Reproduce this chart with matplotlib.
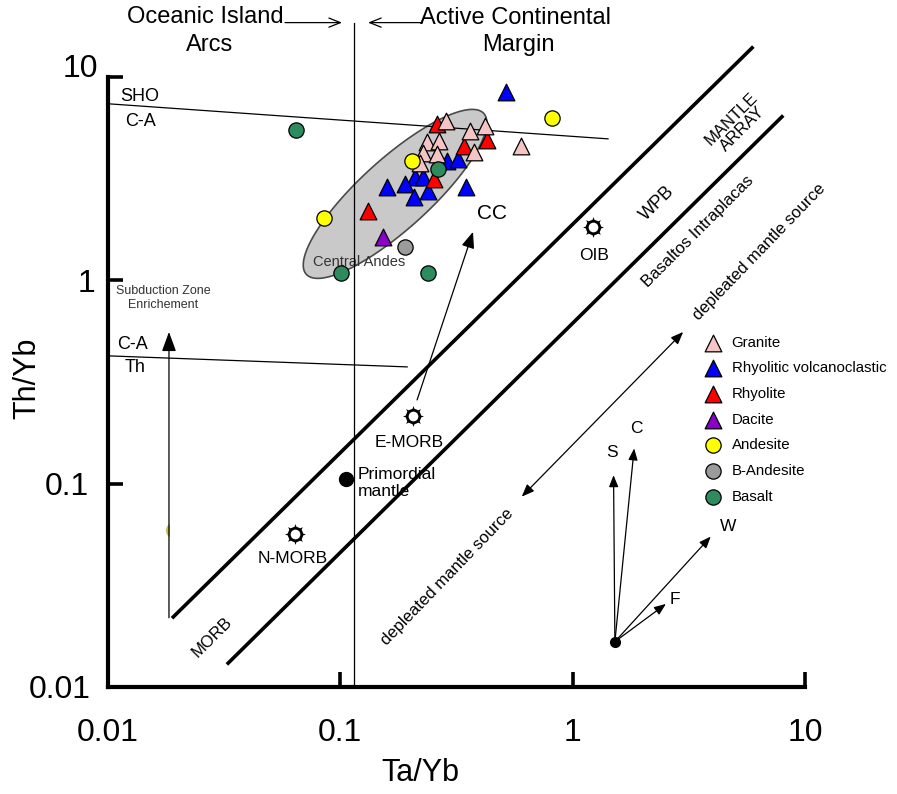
import numpy as np
import matplotlib
matplotlib.use("Agg")
import matplotlib.pyplot as plt
from matplotlib.patches import Polygon, Rectangle
from matplotlib.ticker import NullLocator

plt.rcParams['font.family'] = ['Liberation Sans', 'DejaVu Sans']

# Ta/Yb and Th/Yb per rock type
granite_ta = [0.285, 0.362, 0.420, 0.598, 0.237, 0.267, 0.376, 0.228, 0.260, 0.220]
granite_th = [6.10, 5.45, 5.75, 4.55, 4.76, 4.85, 4.27, 4.25, 4.19, 3.77]
rvolc_ta = [0.515, 0.287, 0.322, 0.210, 0.228, 0.159, 0.190, 0.208, 0.239, 0.348]
rvolc_th = [8.41, 3.84, 3.94, 3.21, 3.21, 2.89, 2.98, 2.58, 2.76, 2.87]
rhyolite_ta = [0.260, 0.429, 0.341, 0.254, 0.131]
rhyolite_th = [5.88, 4.90, 4.55, 3.15, 2.18]
dacite_ta = [0.153]
dacite_th = [1.64]
andesite_ta = [0.813, 0.203, 0.0851]
andesite_th = [6.27, 3.88, 2.02]
andesite_hidden_ta = [0.0190]
andesite_hidden_th = [0.0592]
bandesite_ta = [0.190]
bandesite_th = [1.45]
basalt_ta = [0.0643, 0.264, 0.101, 0.239]
basalt_th = [5.49, 3.53, 1.08, 1.08]

# reference compositions
ref_names = ['OIB', 'E-MORB', 'N-MORB']
ref_ta = [1.22, 0.205, 0.0638]
ref_th = [1.82, 0.215, 0.0566]
pm_ta, pm_th = 0.1055, 0.1058

# field boundaries
mantle_up_ta, mantle_up_th = [0.0191, 5.92], [0.0221, 13.9]
mantle_lo_ta, mantle_lo_th = [0.0329, 7.96], [0.0131, 6.37]
sho_ta, sho_th = [0.01, 1.42], [7.38, 4.96]
cath_ta, cath_th = [0.01, 0.194], [0.425, 0.375]
arc_ta = 0.115
arc_th = [0.01, 18.5]

# Central Andes field: centre and half axes in log units
andes_c = (np.log10(0.172), np.log10(2.66))
andes_major = (0.382, 0.3955)
andes_minor = (0.101, -0.1274)

# process vectors S, C, W, F
vec_origin = (1.52, 0.0167)
vec_names = ['S', 'C', 'W', 'F']
vec_ta = [1.50, 1.84, 3.93, 2.52]
vec_th = [0.110, 0.149, 0.0549, 0.0256]
vec_lab_ta = [1.47, 1.875, 4.67, 2.76]
vec_lab_th = [0.142, 0.187, 0.0614, 0.0268]

fig = plt.figure(figsize=(8.97, 7.94), dpi=100)
ax = fig.add_axes([0.1204, 0.1348, 0.7770, 0.7683])
ax.set_xscale('log')
ax.set_yscale('log')
ax.set_xlim(0.01, 10)
ax.set_ylim(0.01, 10)

# Central Andes ellipse
t = np.linspace(0, 2 * np.pi, 200)
ex = andes_c[0] + np.cos(t) * andes_major[0] + np.sin(t) * andes_minor[0]
ey = andes_c[1] + np.cos(t) * andes_major[1] + np.sin(t) * andes_minor[1]
ax.add_patch(Polygon(np.column_stack([10 ** ex, 10 ** ey]), closed=True,
                     facecolor='#c9c9c9', edgecolor='#4a4a4a', lw=1.2, zorder=1))
ax.text(0.1204, 1.232, 'Central Andes', fontsize=10.5, color='#333333',
        ha='center', va='center', zorder=2)

thin = dict(color='k', lw=0.9, zorder=2, clip_on=False)
ax.plot(mantle_up_ta, mantle_up_th, color='k', lw=2.6, zorder=2, clip_on=False)
ax.plot(mantle_lo_ta, mantle_lo_th, color='k', lw=2.6, zorder=2, clip_on=False)
ax.plot(sho_ta, sho_th, **thin)
ax.plot(cath_ta, cath_th, **thin)
ax.plot([arc_ta, arc_ta], arc_th, **thin)

ax.text(0.01127, 7.98, 'SHO', fontsize=13, va='center')
ax.text(0.01184, 6.01, 'C-A', fontsize=13, va='center')
ax.text(0.01093, 0.481, 'C-A', fontsize=13, va='center')
ax.text(0.01184, 0.371, 'Th', fontsize=13, va='center')
ax.text(0.01726, 0.819, 'Subduction Zone\nEnrichement', fontsize=9, color='#333333',
        ha='center', va='center', linespacing=1.25)

# subduction enrichment arrow
ax.annotate('', xy=(0.0183, 0.557), xytext=(0.0183, 0.0219),
            arrowprops=dict(arrowstyle='-|>,head_length=0.6,head_width=0.22',
                            mutation_scale=20, color='k', lw=0.9,
                            shrinkA=0, shrinkB=0))

# top annotations
ax.text(0.02616, 19.8, 'Oceanic Island', fontsize=17, ha='center', va='center')
ax.text(0.02748, 14.4, 'Arcs', fontsize=17, ha='center', va='center')
ax.text(0.2203, 19.6, 'Active Continental', fontsize=17, ha='left', va='center')
ax.text(0.582, 14.4, 'Margin', fontsize=17, ha='center', va='center')
top_arrow = dict(arrowstyle='->,head_length=0.55,head_width=0.22', mutation_scale=15,
                 color='k', lw=0.9, shrinkA=0, shrinkB=0)
ax.annotate('', xy=(0.1017, 18.5), xytext=(0.0578, 18.5), arrowprops=top_arrow,
            annotation_clip=False)
ax.annotate('', xy=(0.1316, 18.5), xytext=(0.2250, 18.5), arrowprops=top_arrow,
            annotation_clip=False)

# rotated field names
ax.text(0.028, 0.0176, 'MORB', fontsize=12, rotation=45, ha='center', va='center')
ax.text(0.288, 0.0348, 'depleated mantle source', fontsize=12, rotation=46,
        ha='center', va='center')
ax.text(6.34, 1.38, 'depleated mantle source', fontsize=12, rotation=46,
        ha='center', va='center')
ax.text(3.47, 1.73, 'Basaltos Intraplacas', fontsize=12, rotation=45,
        ha='center', va='center')
ax.text(2.31, 2.40, 'WPB', fontsize=13, rotation=45, ha='center', va='center')
ax.text(5.10, 5.88, 'MANTLE\nARRAY', fontsize=12, rotation=45, ha='center',
        va='center', multialignment='center', linespacing=1.0)

# CC arrow and depleted mantle double arrow
ax.annotate('', xy=(0.3725, 1.73), xytext=(0.214, 0.258),
            arrowprops=dict(arrowstyle='-|>,head_length=0.55,head_width=0.22',
                            mutation_scale=18, color='k', lw=0.9, shrinkA=0, shrinkB=0))
ax.text(0.450, 2.12, 'CC', fontsize=15, ha='center', va='center')
ax.annotate('', xy=(2.99, 0.557), xytext=(0.604, 0.0863),
            arrowprops=dict(arrowstyle='<|-|>,head_length=0.5,head_width=0.2',
                            mutation_scale=15, color='k', lw=0.9, shrinkA=0, shrinkB=0))

# reference compositions
ax.scatter(ref_ta, ref_th, marker=(8, 1, 0), s=15 ** 2, color='k', lw=0, zorder=4)
ax.scatter(ref_ta, ref_th, marker='o', s=9 ** 2, facecolor='white',
           edgecolor='k', lw=2.0, zorder=5)
ax.text(1.236, 1.318, 'OIB', fontsize=12.5, ha='center', va='center')
ax.text(0.1975, 0.1585, 'E-MORB', fontsize=12.5, ha='center', va='center')
ax.text(0.0626, 0.0426, 'N-MORB', fontsize=12.5, ha='center', va='center')
ax.scatter([pm_ta], [pm_th], marker='o', s=10 ** 2, color='k', zorder=5)
ax.text(0.1192, 0.1008, 'Primordial\nmantle', fontsize=12.5, ha='left', va='center',
        linespacing=1.1)

# process vectors
for name, tx, ty, lx, ly in zip(vec_names, vec_ta, vec_th, vec_lab_ta, vec_lab_th):
    ax.annotate('', xy=(tx, ty), xytext=vec_origin,
                arrowprops=dict(arrowstyle='-|>,head_length=0.5,head_width=0.2',
                                mutation_scale=14, color='k', lw=0.9,
                                shrinkA=0, shrinkB=0))
    ax.text(lx, ly, name, fontsize=12.5, ha='center', va='center')
ax.scatter([vec_origin[0]], [vec_origin[1]], marker='o', s=7 ** 2, color='k', zorder=5)

# samples
tri = dict(marker='^', s=12 ** 2, edgecolor='k', linewidths=0.9, zorder=6)
cir = dict(marker='o', s=11 ** 2, edgecolor='k', linewidths=0.9, zorder=7)
h_rv = ax.scatter(rvolc_ta, rvolc_th, color='#0000ff', label='Rhyolitic volcanoclastic', **tri)
h_rh = ax.scatter(rhyolite_ta, rhyolite_th, color='#ff0000', label='Rhyolite', **tri)
h_gr = ax.scatter(granite_ta, granite_th, color='#f5c4c4', label='Granite', **tri)
h_da = ax.scatter(dacite_ta, dacite_th, color='#8a00c8', label='Dacite', **tri)
h_an = ax.scatter(andesite_ta, andesite_th, color='#ffff00', label='Andesite', **cir)
h_ba = ax.scatter(bandesite_ta, bandesite_th, color='#9b9b9b', label='B-Andesite', **cir)
h_bs = ax.scatter(basalt_ta, basalt_th, color='#2e8b5e', label='Basalt', **cir)
hid = ax.scatter(andesite_hidden_ta, andesite_hidden_th, color='#c8c24a',
                 marker='o', s=11 ** 2, lw=0, zorder=1)
hid.set_clip_path(Rectangle((0.01, 0.01), 0.0083, 1.0, transform=ax.transData))

ax.legend(handles=[h_gr, h_rv, h_rh, h_da, h_an, h_ba, h_bs], loc='upper left',
          bbox_to_anchor=(0.856, 0.576), frameon=False, fontsize=10.8,
          handlelength=1.1, handletextpad=0.7, labelspacing=0.78,
          borderpad=0, borderaxespad=0)

# axes styling
for side in ['top', 'right']:
    ax.spines[side].set_visible(False)
for side in ['left', 'bottom']:
    ax.spines[side].set_linewidth(3)
ax.set_xticks([0.01, 0.1, 1, 10], labels=['0.01', '0.1', '1', '10'])
ax.set_yticks([0.01, 0.1, 1, 10], labels=['0.01', '0.1', '1', '10'])
ax.xaxis.set_minor_locator(NullLocator())
ax.yaxis.set_minor_locator(NullLocator())
ax.tick_params(direction='in', length=10.5, width=2.6, labelsize=23)
ax.tick_params(axis='x', pad=22)
ax.tick_params(axis='y', pad=7)
ylabels = ax.get_yticklabels()
ylabels[0].set_x(-0.011)
ylabels[1].set_x(-0.013)
ylabels[2].set_x(-0.004)
ylabels[3].set_va('baseline')

ax.set_xlabel('Ta/Yb', fontsize=22)
ax.xaxis.set_label_coords(0.4476, -0.141)
ax.xaxis.label.set_va('center')
ax.set_ylabel('Th/Yb', fontsize=22)
ax.yaxis.set_label_coords(-0.116, 0.5066)
ax.yaxis.label.set_va('center')

fig.savefig('out.png', dpi=100)
